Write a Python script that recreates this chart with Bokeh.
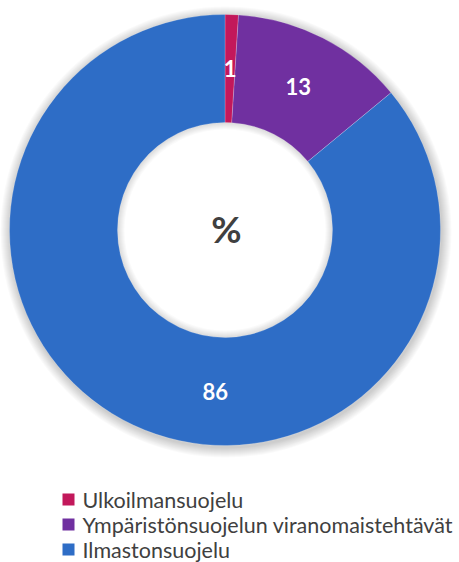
import math
from bokeh.plotting import figure
from bokeh.models import ColumnDataSource, Range1d
from bokeh.core.properties import value
from bokeh.embed import file_html
from bokeh.resources import INLINE

# ---- data ----
categories = ["Ulkoilmansuojelu", "Ympäristönsuojelun viranomaistehtävät", "Ilmastonsuojelu"]
shares = [1, 13, 86]
labels = ["1", "13", "86"]
colors = ["#C2185B", "#7030A0", "#2E6DC6"]
center_text = "%"

# ---- layout (pixels, data units == pixels) ----
W, H = 459, 562
cx, cy = 224.5, 332.5
r_out, r_in = 215.5, 107.5
r_lab = (r_out + r_in) / 2
FONT = "Lato"

p = figure(width=W, height=H, output_backend="svg", toolbar_location=None,
           x_range=Range1d(0, W), y_range=Range1d(0, H), min_border=0,
           background_fill_color="white", border_fill_color="white")
p.axis.visible = False
p.grid.visible = False
p.outline_line_color = None

# soft shadow around the ring
for k in range(1, 11):
    p.annulus(x=cx + 1, y=cy - 2, inner_radius=r_out - 3, outer_radius=r_out + k,
              fill_color="#000000", fill_alpha=0.018, line_color=None)
# soft inner shadow inside the hole
for k in range(1, 8):
    p.annulus(x=cx, y=cy, inner_radius=r_in - k, outer_radius=r_in + 2,
              fill_color="#000000", fill_alpha=0.02, line_color=None)

total = float(sum(shares))
starts, ends, mids = [], [], []
acc = 0.0
for v in shares:
    a0 = math.pi / 2 - 2 * math.pi * acc / total
    acc += v
    a1 = math.pi / 2 - 2 * math.pi * acc / total
    starts.append(a0)
    ends.append(a1)
    mids.append((a0 + a1) / 2)

src = ColumnDataSource(dict(start=starts, end=ends, color=colors, cat=categories))
p.annular_wedge(x=cx, y=cy, inner_radius=r_in, outer_radius=r_out,
                start_angle="start", end_angle="end", direction="clock",
                fill_color="color", line_color="#ffffff", line_width=0.4,
                line_alpha=0.5, source=src)

# label angles: mid-angle of each slice; the large slice label sits near the bottom in the original
label_angles = list(mids)
label_angles[2] = math.pi / 2 - math.radians(183.5)
lx = [cx + r_lab * math.cos(a) for a in label_angles]
ly = [cy + r_lab * math.sin(a) for a in label_angles]
p.text(x=lx, y=ly, text=labels, text_color="white", text_font=value(FONT),
       text_font_style="bold", text_font_size="22px", text_align="center",
       text_baseline="middle")

p.text(x=[cx + 1.5], y=[cy + 1.5], text=[center_text], text_color="#404040",
       text_font=value(FONT), text_font_style="bold", text_font_size="37px",
       text_align="center", text_baseline="middle")

# legend
leg_x = 68
leg_y0 = 63
leg_dy = 25
ly_leg = [leg_y0 - i * leg_dy for i in range(len(categories))]
p.rect(x=[leg_x] * len(categories), y=ly_leg, width=12, height=12,
       fill_color=colors, line_color=None)
p.text(x=[leg_x + 14] * len(categories), y=ly_leg, text=categories,
       text_color="#404040", text_font=value(FONT), text_font_size="21.5px",
       text_align="left", text_baseline="middle")

open("out.html", "w").write(file_html(p, INLINE))
